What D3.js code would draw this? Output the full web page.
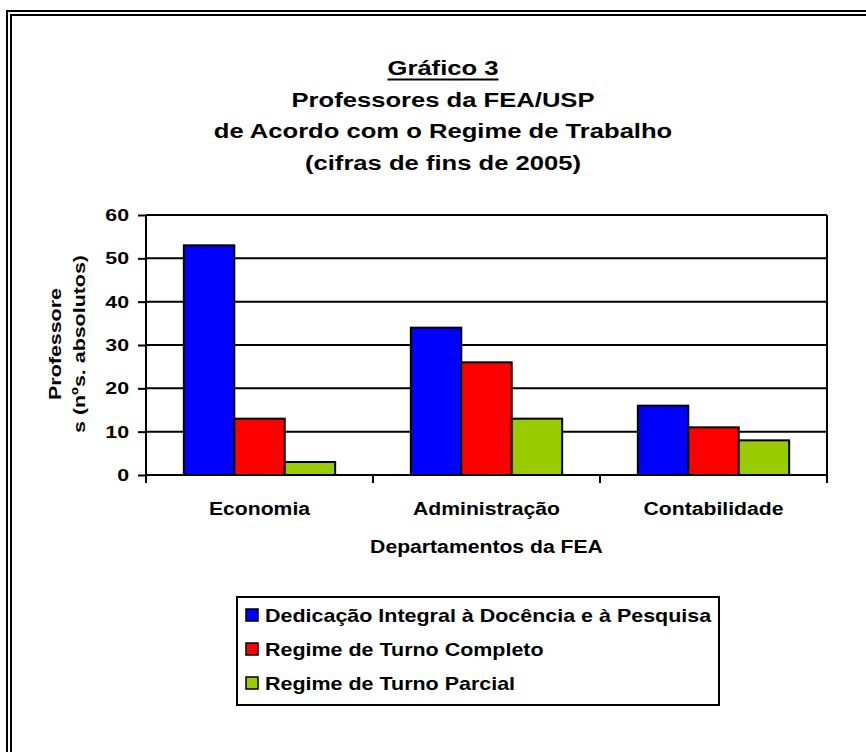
<!DOCTYPE html>
<html>
<head>
<meta charset="utf-8">
<script src="https://cdn.jsdelivr.net/npm/d3@7"></script>
<style>
  body { margin: 0; background: #fff; }
  svg { display: block; font-family: "Liberation Sans", Arial, sans-serif; font-weight: bold; }
</style>
</head>
<body>
<div id="chart"></div>
<script>
// data
var titleLines = ["Gráfico 3", "Professores da FEA/USP", "de Acordo com o Regime de Trabalho", "(cifras de fins de 2005)"];
var departments = ["Economia", "Administração", "Contabilidade"];
var seriesNames = ["Dedicação Integral à Docência e à Pesquisa", "Regime de Turno Completo", "Regime de Turno Parcial"];
var dedicacao = [53, 34, 16];
var turnoCompleto = [13, 26, 11];
var turnoParcial = [3, 13, 8];
var yTicks = [0, 10, 20, 30, 40, 50, 60];
var yTitleLines = ["Professore", "s (nºs. absolutos)"];
var xTitle = "Departamentos da FEA";

var colors = ["#0000ff", "#ff0000", "#99cc00"];
var seriesValues = [dedicacao, turnoCompleto, turnoParcial];

var width = 866, height = 752;
var plot = { left: 146, right: 827, top: 215, bottom: 475 };

var svg = d3.select("#chart").append("svg")
    .attr("width", width)
    .attr("height", height);

// double frame (only top and left show in the picture)
function frame(off) {
    svg.append("path")
        .attr("d", "M" + (7 + off) + "," + height + "V" + (11 + off) + "H" + width)
        .attr("fill", "none")
        .attr("stroke", "#000")
        .attr("stroke-width", 2);
}
frame(0);
frame(4);

// text drawn a bit wider than the font, as in the picture
function label(g, txt, x, y, size, sx, anchor, rot) {
    return g.append("text")
        .attr("transform", "translate(" + x + "," + y + ")" + (rot ? " rotate(" + rot + ")" : "") + " scale(" + sx + ",1)")
        .attr("text-anchor", anchor)
        .attr("font-size", size)
        .attr("fill", "#000")
        .text(txt);
}

// title
titleLines.forEach(function(t, i) {
    var el = label(svg, t, 443, 75 + i * 31.7, 21, 1.22, "middle");
    if (i === 0) {
        var w = el.node().getComputedTextLength() * 1.22;
        svg.append("line")
            .attr("x1", 443 - w / 2).attr("x2", 443 + w / 2)
            .attr("y1", 79.5).attr("y2", 79.5)
            .attr("stroke", "#000").attr("stroke-width", 2);
    }
});

var x = d3.scaleBand()
    .domain(departments)
    .range([plot.left, plot.right]);

var xSub = d3.scaleBand()
    .domain(d3.range(seriesNames.length))
    .range([0, x.bandwidth()])
    .paddingInner(0)
    .paddingOuter(0.75);

var y = d3.scaleLinear()
    .domain([0, 60])
    .range([plot.bottom, plot.top]);

// gridlines
svg.append("g")
    .selectAll("line")
    .data(yTicks.slice(1))
    .enter()
    .append("line")
    .attr("x1", plot.left).attr("x2", plot.right)
    .attr("y1", function(d) { return y(d); })
    .attr("y2", function(d) { return y(d); })
    .attr("stroke", "#000")
    .attr("stroke-width", 2);

// right edge of plot area
svg.append("line")
    .attr("x1", plot.right).attr("x2", plot.right)
    .attr("y1", plot.top).attr("y2", plot.bottom)
    .attr("stroke", "#000").attr("stroke-width", 2);

// bars
var rows = [];
departments.forEach(function(dep, i) {
    seriesValues.forEach(function(vals, s) {
        rows.push({ dep: dep, s: s, v: vals[i] });
    });
});

svg.append("g")
    .selectAll("rect")
    .data(rows)
    .enter()
    .append("rect")
    .attr("x", function(d) { return x(d.dep) + xSub(d.s); })
    .attr("y", function(d) { return y(d.v); })
    .attr("width", xSub.bandwidth())
    .attr("height", function(d) { return y(0) - y(d.v); })
    .attr("fill", function(d) { return colors[d.s]; })
    .attr("stroke", "#000")
    .attr("stroke-width", 2);

// y axis
var yAxis = d3.axisLeft(y)
    .tickValues(yTicks)
    .tickSize(8)
    .tickFormat("");
var gY = svg.append("g")
    .attr("transform", "translate(" + plot.left + ",0)")
    .call(yAxis);
gY.select(".domain").remove();
gY.selectAll(".tick line").attr("stroke", "#000").attr("stroke-width", 2);
svg.append("line")
    .attr("x1", plot.left).attr("x2", plot.left)
    .attr("y1", plot.top).attr("y2", plot.bottom + 8)
    .attr("stroke", "#000").attr("stroke-width", 2);
yTicks.forEach(function(t) {
    label(svg, t, 129, y(t) + 6, 16.8, 1.27, "end");
});

// x axis: baseline and category separators
svg.append("line")
    .attr("x1", plot.left).attr("x2", plot.right)
    .attr("y1", plot.bottom).attr("y2", plot.bottom)
    .attr("stroke", "#000").attr("stroke-width", 2);
var seps = departments.map(function(d) { return x(d); }).concat([plot.right]);
svg.append("g")
    .selectAll("line")
    .data(seps)
    .enter()
    .append("line")
    .attr("x1", function(d) { return d; })
    .attr("x2", function(d) { return d; })
    .attr("y1", plot.bottom).attr("y2", plot.bottom + 8)
    .attr("stroke", "#000").attr("stroke-width", 2);
departments.forEach(function(d) {
    label(svg, d, x(d) + x.bandwidth() / 2, 515, 17.5, 1.21, "middle");
});
label(svg, xTitle, (plot.left + plot.right) / 2, 553, 17.5, 1.21, "middle");

// y title, rotated
yTitleLines.forEach(function(t, i) {
    label(svg, t, 61 + i * 23.5, 344, 17, 1.26, "middle", -90);
});

// legend
var legend = svg.append("g");
legend.append("rect")
    .attr("x", 237).attr("y", 597)
    .attr("width", 482).attr("height", 108)
    .attr("fill", "#fff")
    .attr("stroke", "#000")
    .attr("stroke-width", 2);
seriesNames.forEach(function(name, i) {
    var base = 622 + i * 34;
    legend.append("rect")
        .attr("x", 246).attr("y", base - 13)
        .attr("width", 12).attr("height", 12)
        .attr("fill", colors[i])
        .attr("stroke", "#000")
        .attr("stroke-width", 1.5);
    label(legend, name, 265, base, 19, 1.13, "start");
});
</script>
</body>
</html>
